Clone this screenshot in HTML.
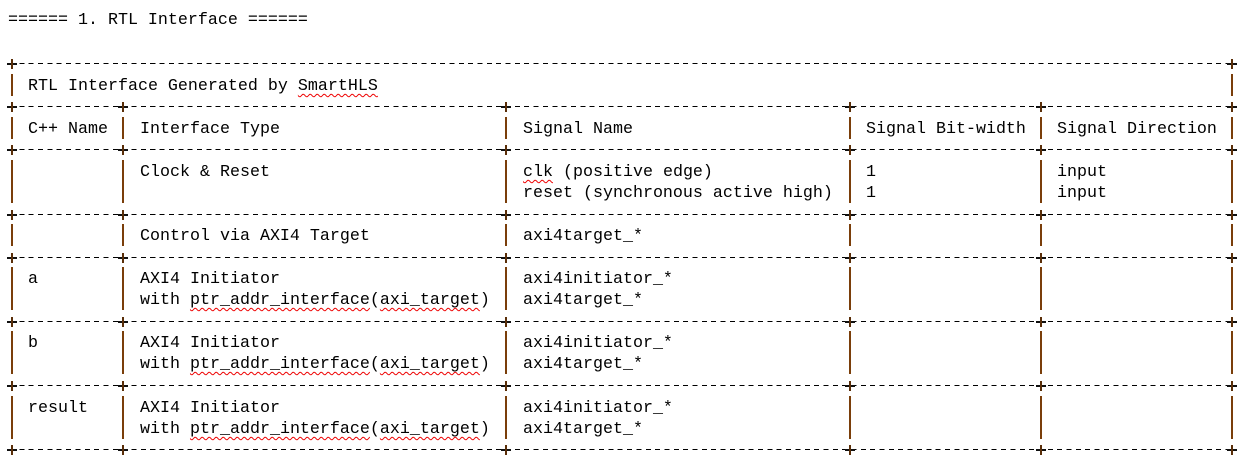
<!DOCTYPE html>
<html><head><meta charset="utf-8"><style>
body{margin:0;width:1258px;height:474px;background:#fff;position:relative;overflow:hidden}
.t{position:absolute;font-family:"Liberation Mono",monospace;font-size:16.67px;line-height:20px;white-space:pre;color:#000;margin-top:2px}
.s{text-decoration:underline wavy #e00;text-decoration-thickness:1px;text-underline-offset:3px}
.p{position:absolute;width:2px;height:22px;background:#7a3e0a}
.h{position:absolute;left:10px;width:1225px;height:1.4px;background:repeating-linear-gradient(90deg,#000 0 5px,transparent 5px 9.35px)}
.x{position:absolute;width:10px;height:10px}
.x:before{content:"";position:absolute;left:0;top:4px;width:10px;height:1.5px;background:#111}
.x:after{content:"";position:absolute;left:4px;top:0;width:2px;height:10px;background:#5a2e08}
</style></head><body>
<div class="t" style="left:8px;top:9px">====== 1. RTL Interface ======</div>

<div class="h" style="top:63px"></div>
<div class="h" style="top:106px"></div>
<div class="h" style="top:149px"></div>
<div class="h" style="top:214px"></div>
<div class="h" style="top:257px"></div>
<div class="h" style="top:321px"></div>
<div class="h" style="top:385px"></div>
<div class="h" style="top:449px"></div>

<div class="x" style="left:7px;top:59px"></div><div class="x" style="left:1227px;top:59px"></div>
<div class="x" style="left:7px;top:102px"></div><div class="x" style="left:118px;top:102px"></div><div class="x" style="left:501px;top:102px"></div><div class="x" style="left:845px;top:102px"></div><div class="x" style="left:1036px;top:102px"></div><div class="x" style="left:1227px;top:102px"></div>
<div class="x" style="left:7px;top:145px"></div><div class="x" style="left:118px;top:145px"></div><div class="x" style="left:501px;top:145px"></div><div class="x" style="left:845px;top:145px"></div><div class="x" style="left:1036px;top:145px"></div><div class="x" style="left:1227px;top:145px"></div>
<div class="x" style="left:7px;top:210px"></div><div class="x" style="left:118px;top:210px"></div><div class="x" style="left:501px;top:210px"></div><div class="x" style="left:845px;top:210px"></div><div class="x" style="left:1036px;top:210px"></div><div class="x" style="left:1227px;top:210px"></div>
<div class="x" style="left:7px;top:253px"></div><div class="x" style="left:118px;top:253px"></div><div class="x" style="left:501px;top:253px"></div><div class="x" style="left:845px;top:253px"></div><div class="x" style="left:1036px;top:253px"></div><div class="x" style="left:1227px;top:253px"></div>
<div class="x" style="left:7px;top:317px"></div><div class="x" style="left:118px;top:317px"></div><div class="x" style="left:501px;top:317px"></div><div class="x" style="left:845px;top:317px"></div><div class="x" style="left:1036px;top:317px"></div><div class="x" style="left:1227px;top:317px"></div>
<div class="x" style="left:7px;top:381px"></div><div class="x" style="left:118px;top:381px"></div><div class="x" style="left:501px;top:381px"></div><div class="x" style="left:845px;top:381px"></div><div class="x" style="left:1036px;top:381px"></div><div class="x" style="left:1227px;top:381px"></div>
<div class="x" style="left:7px;top:445px"></div><div class="x" style="left:118px;top:445px"></div><div class="x" style="left:501px;top:445px"></div><div class="x" style="left:845px;top:445px"></div><div class="x" style="left:1036px;top:445px"></div><div class="x" style="left:1227px;top:445px"></div>

<div class="p" style="left:11px;top:74px"></div><div class="p" style="left:1231px;top:74px"></div>
<div class="p" style="left:11px;top:117px"></div><div class="p" style="left:122px;top:117px"></div><div class="p" style="left:505px;top:117px"></div><div class="p" style="left:849px;top:117px"></div><div class="p" style="left:1040px;top:117px"></div><div class="p" style="left:1231px;top:117px"></div>
<div class="p" style="left:11px;top:160px"></div><div class="p" style="left:122px;top:160px"></div><div class="p" style="left:505px;top:160px"></div><div class="p" style="left:849px;top:160px"></div><div class="p" style="left:1040px;top:160px"></div><div class="p" style="left:1231px;top:160px"></div>
<div class="p" style="left:11px;top:181px"></div><div class="p" style="left:122px;top:181px"></div><div class="p" style="left:505px;top:181px"></div><div class="p" style="left:849px;top:181px"></div><div class="p" style="left:1040px;top:181px"></div><div class="p" style="left:1231px;top:181px"></div>
<div class="p" style="left:11px;top:224px"></div><div class="p" style="left:122px;top:224px"></div><div class="p" style="left:505px;top:224px"></div><div class="p" style="left:849px;top:224px"></div><div class="p" style="left:1040px;top:224px"></div><div class="p" style="left:1231px;top:224px"></div>
<div class="p" style="left:11px;top:267px"></div><div class="p" style="left:122px;top:267px"></div><div class="p" style="left:505px;top:267px"></div><div class="p" style="left:849px;top:267px"></div><div class="p" style="left:1040px;top:267px"></div><div class="p" style="left:1231px;top:267px"></div>
<div class="p" style="left:11px;top:288px"></div><div class="p" style="left:122px;top:288px"></div><div class="p" style="left:505px;top:288px"></div><div class="p" style="left:849px;top:288px"></div><div class="p" style="left:1040px;top:288px"></div><div class="p" style="left:1231px;top:288px"></div>
<div class="p" style="left:11px;top:331px"></div><div class="p" style="left:122px;top:331px"></div><div class="p" style="left:505px;top:331px"></div><div class="p" style="left:849px;top:331px"></div><div class="p" style="left:1040px;top:331px"></div><div class="p" style="left:1231px;top:331px"></div>
<div class="p" style="left:11px;top:352px"></div><div class="p" style="left:122px;top:352px"></div><div class="p" style="left:505px;top:352px"></div><div class="p" style="left:849px;top:352px"></div><div class="p" style="left:1040px;top:352px"></div><div class="p" style="left:1231px;top:352px"></div>
<div class="p" style="left:11px;top:396px"></div><div class="p" style="left:122px;top:396px"></div><div class="p" style="left:505px;top:396px"></div><div class="p" style="left:849px;top:396px"></div><div class="p" style="left:1040px;top:396px"></div><div class="p" style="left:1231px;top:396px"></div>
<div class="p" style="left:11px;top:417px"></div><div class="p" style="left:122px;top:417px"></div><div class="p" style="left:505px;top:417px"></div><div class="p" style="left:849px;top:417px"></div><div class="p" style="left:1040px;top:417px"></div><div class="p" style="left:1231px;top:417px"></div>

<div class="t" style="left:28px;top:75px">RTL Interface Generated by <span class="s">SmartHLS</span></div>

<div class="t" style="left:28px;top:118px">C++ Name</div>
<div class="t" style="left:140px;top:118px">Interface Type</div>
<div class="t" style="left:523px;top:118px">Signal Name</div>
<div class="t" style="left:866px;top:118px">Signal Bit-width</div>
<div class="t" style="left:1057px;top:118px">Signal Direction</div>

<div class="t" style="left:140px;top:161px">Clock &amp; Reset</div>
<div class="t" style="left:523px;top:161px"><span class="s">clk</span> (positive edge)</div>
<div class="t" style="left:866px;top:161px">1</div>
<div class="t" style="left:1057px;top:161px">input</div>
<div class="t" style="left:523px;top:182px">reset (synchronous active high)</div>
<div class="t" style="left:866px;top:182px">1</div>
<div class="t" style="left:1057px;top:182px">input</div>

<div class="t" style="left:140px;top:225px">Control via AXI4 Target</div>
<div class="t" style="left:523px;top:225px">axi4target_*</div>

<div class="t" style="left:28px;top:268px">a</div>
<div class="t" style="left:140px;top:268px">AXI4 Initiator</div>
<div class="t" style="left:523px;top:268px">axi4initiator_*</div>
<div class="t" style="left:140px;top:289px">with <span class="s">ptr_addr_interface</span>(<span class="s">axi_target</span>)</div>
<div class="t" style="left:523px;top:289px">axi4target_*</div>

<div class="t" style="left:28px;top:332px">b</div>
<div class="t" style="left:140px;top:332px">AXI4 Initiator</div>
<div class="t" style="left:523px;top:332px">axi4initiator_*</div>
<div class="t" style="left:140px;top:353px">with <span class="s">ptr_addr_interface</span>(<span class="s">axi_target</span>)</div>
<div class="t" style="left:523px;top:353px">axi4target_*</div>

<div class="t" style="left:28px;top:397px">result</div>
<div class="t" style="left:140px;top:397px">AXI4 Initiator</div>
<div class="t" style="left:523px;top:397px">axi4initiator_*</div>
<div class="t" style="left:140px;top:418px">with <span class="s">ptr_addr_interface</span>(<span class="s">axi_target</span>)</div>
<div class="t" style="left:523px;top:418px">axi4target_*</div>
</body></html>
